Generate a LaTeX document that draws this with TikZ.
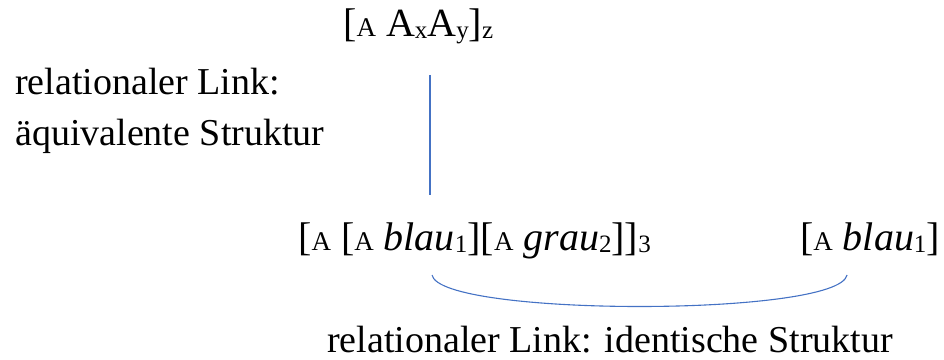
\documentclass[tikz,border=0pt]{standalone}
\usepackage{fontspec}
\setmainfont{Liberation Serif}
\usetikzlibrary{positioning,calc}
\definecolor{linkblau}{RGB}{68,114,196}
\newcommand{\kA}{{\fontsize{27}{27}\selectfont A}}
\newcommand{\tief}[1]{\raisebox{-2pt}{\fontsize{25}{25}\selectfont #1}}

\begin{document}
\begin{tikzpicture}[x=1pt, y=1pt,
    txt/.style={inner sep=0pt, font=\fontsize{38}{46}\selectfont},
    formel/.style={inner sep=0pt, font=\fontsize{40}{48}\selectfont},
    linkline/.style={draw=linkblau, line width=1.1pt}]
    \useasboundingbox (0,0) rectangle (944,359);
    % Formeln
    \node[formel, anchor=base west] (oben) at (343,322) {[\kA{} A\tief{x}A\tief{y}]\tief{z}};
    \node[formel, anchor=base west] (komplex) at (298,109)
      {[\kA{} [\kA{} \textit{blau}\tief{1}][\kA{} \textit{grau}\tief{2}]]\tief{3}};
    \node[formel, anchor=base east] (einfach) at (940,109) {[\kA{} \textit{blau}\tief{1}]};
    % Beschriftungen
    \node[txt, anchor=base west] (rel1) at (15,264) {relationaler Link:};
    \node[txt, anchor=base west] (rel2) at (15,213) {äquivalente Struktur};
    \node[txt, anchor=base east] (rel3) at (893,7) {relationaler Link: identische Struktur};
    % Links
    \coordinate (vo) at (430,284);
    \coordinate (vu) at (430,164);
    \draw[linkline] (vo) -- (vu);
    \coordinate (bl) at (432,84);
    \coordinate (br) at (847,84);
    \draw[linkline] (bl) .. controls (440,42) and (839,42) .. (br);
  \end{tikzpicture}
\end{document}
